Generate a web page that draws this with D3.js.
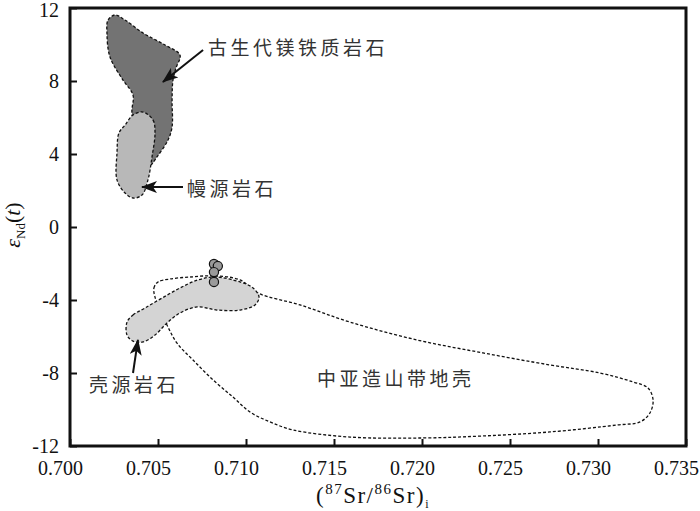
<!DOCTYPE html>
<html>
<head>
<meta charset="utf-8">
<script src="https://cdn.jsdelivr.net/npm/d3@7"></script>
<style>
  body { margin: 0; background: #fff; }
  svg { display: block; }
</style>
</head>
<body>
<svg id="chart" width="700" height="511"></svg>
<script>
// field outlines, [87Sr/86Sr, eNd]
const maficField = [
  [0.70256, 11.62], [0.70313, 11.34], [0.70415, 10.63], [0.70540, 9.97], [0.70625, 9.42],
  [0.70602, 8.71], [0.70585, 8.05], [0.70580, 6.96], [0.70580, 5.48], [0.70557, 4.77],
  [0.70494, 3.84], [0.70455, 3.40], [0.70400, 4.20], [0.70352, 6.25], [0.70358, 7.23],
  [0.70301, 8.05], [0.70227, 9.32], [0.70210, 10.63], [0.70216, 11.34]
];

const mantleField = [
  [0.70415, 6.30], [0.70472, 5.86], [0.70483, 5.15], [0.70466, 3.84], [0.70443, 2.58],
  [0.70409, 1.75], [0.70358, 1.59], [0.70313, 1.86], [0.70267, 2.58], [0.70267, 4.05],
  [0.70278, 5.15], [0.70313, 5.59], [0.70358, 6.14]
];

const crustField = [
  [0.70324, -5.21], [0.70358, -4.82], [0.70426, -4.44], [0.70523, -3.89], [0.70625, -3.34],
  [0.70727, -2.90], [0.70824, -2.74], [0.70966, -3.01], [0.71040, -3.34], [0.71074, -3.84],
  [0.71051, -4.27], [0.70966, -4.55], [0.70835, -4.55], [0.70722, -4.38], [0.70625, -4.71],
  [0.70551, -5.26], [0.70483, -5.92], [0.70415, -6.30], [0.70358, -6.25], [0.70324, -5.92]
];

const orogenField = [
  [0.70483, -3.84], [0.70477, -3.34], [0.70500, -3.01], [0.70568, -2.85], [0.70682, -2.74],
  [0.70824, -2.68], [0.70966, -2.90], [0.71068, -3.62], [0.71307, -4.27], [0.71591, -5.21],
  [0.71972, -6.19], [0.72347, -6.90], [0.72727, -7.56], [0.73011, -8.00], [0.73199, -8.49],
  [0.73284, -8.82], [0.73313, -9.48], [0.73295, -10.19], [0.73239, -10.68], [0.73108, -10.85],
  [0.72727, -11.23], [0.72347, -11.45], [0.72006, -11.56], [0.71591, -11.51], [0.71267, -11.12],
  [0.71136, -10.68], [0.71023, -10.14], [0.70926, -9.32], [0.70813, -8.38], [0.70699, -7.29],
  [0.70608, -6.36], [0.70551, -5.37]
];

const samples = [
  [0.70818, -2.03], [0.70840, -2.14], [0.70818, -2.47], [0.70818, -3.01]
];

const xTicks = [0.700, 0.705, 0.710, 0.715, 0.720, 0.725, 0.730, 0.735];
const yTicks = [-12, -8, -4, 0, 4, 8, 12];

const labels = [
  { text: "古生代镁铁质岩石", x: 0.70784, y: 9.42 },
  { text: "幔源岩石", x: 0.70665, y: 1.70 },
  { text: "壳源岩石", x: 0.70108, y: -9.04 },
  { text: "中亚造山带地壳", x: 0.71403, y: -8.71 }
];

const arrows = [
  { from: [0.70756, 9.70], to: [0.70528, 7.95] },
  { from: [0.70642, 2.19], to: [0.70409, 2.19] },
  { from: [0.70358, -8.00], to: [0.70386, -6.19] }
];

const svg = d3.select("#chart");
const mLeft = 70, mRight = 686, mTop = 8, mBottom = 446;
const serif = "Liberation Serif, Times New Roman, serif";

const x = d3.scaleLinear().domain([0.700, 0.735]).range([mLeft, mRight]);
const y = d3.scaleLinear().domain([-12, 12]).range([mBottom, mTop]);

const shape = d3.line()
  .x(d => x(d[0]))
  .y(d => y(d[1]))
  .curve(d3.curveCatmullRomClosed.alpha(0.5));

function field(pts, fill) {
  svg.append("path")
    .attr("d", shape(pts))
    .attr("fill", fill)
    .attr("stroke", "#111")
    .attr("stroke-width", 1.3)
    .attr("stroke-dasharray", "3 2");
}

field(maficField, "#737373");
field(mantleField, "#b8b8b8");
field(orogenField, "none");
field(crustField, "#d4d4d4");

svg.selectAll("circle.sample")
  .data(samples)
  .join("circle")
  .attr("class", "sample")
  .attr("cx", d => x(d[0]))
  .attr("cy", d => y(d[1]))
  .attr("r", 4.6)
  .attr("fill", "#9a9a9a")
  .attr("stroke", "#111")
  .attr("stroke-width", 1.2);

// arrows
svg.append("defs").append("marker")
  .attr("id", "head")
  .attr("markerUnits", "userSpaceOnUse")
  .attr("viewBox", "0 0 16 12")
  .attr("refX", 15)
  .attr("refY", 6)
  .attr("markerWidth", 16)
  .attr("markerHeight", 12)
  .attr("orient", "auto")
  .append("path")
  .attr("d", "M0,0 L16,6 L0,12 L4,6 Z")
  .attr("fill", "#111");

svg.selectAll("line.arrow")
  .data(arrows)
  .join("line")
  .attr("class", "arrow")
  .attr("x1", d => x(d.from[0]))
  .attr("y1", d => y(d.from[1]))
  .attr("x2", d => x(d.to[0]))
  .attr("y2", d => y(d.to[1]))
  .attr("stroke", "#111")
  .attr("stroke-width", 2)
  .attr("marker-end", "url(#head)");

svg.selectAll("text.zh")
  .data(labels)
  .join("text")
  .attr("class", "zh")
  .attr("x", d => x(d.x))
  .attr("y", d => y(d.y))
  .attr("font-family", "Noto Sans CJK SC, sans-serif")
  .attr("font-size", 19)
  .attr("letter-spacing", 3.5)
  .attr("fill", "#333")
  .text(d => d.text);

// axes, ticks pointing inward
const gx = svg.append("g")
  .attr("transform", `translate(0,${mBottom})`)
  .call(d3.axisBottom(x).tickValues(xTicks).tickFormat(d3.format(".3f")).tickSize(-7).tickPadding(12));
const gy = svg.append("g")
  .attr("transform", `translate(${mLeft},0)`)
  .call(d3.axisLeft(y).tickValues(yTicks).tickFormat(d => d < 0 ? "-" + Math.abs(d) : d).tickSize(-7).tickPadding(11));

[gx, gy].forEach(g => {
  g.select(".domain").remove();
  g.selectAll(".tick line").attr("stroke", "#111").attr("stroke-width", 2);
  g.selectAll(".tick text")
    .attr("font-family", serif)
    .attr("font-size", 20)
    .attr("fill", "#111");
});
gx.selectAll(".tick text").attr("dy", "0.85em").attr("dx", -10);
gy.selectAll(".tick text").filter(d => d === 12).attr("dy", "0.42em");

svg.append("rect")
  .attr("x", mLeft)
  .attr("y", mTop)
  .attr("width", mRight - mLeft)
  .attr("height", mBottom - mTop)
  .attr("fill", "none")
  .attr("stroke", "#111")
  .attr("stroke-width", 3);

// axis titles
const xt = svg.append("text")
  .attr("x", 373)
  .attr("y", 503)
  .attr("text-anchor", "middle")
  .attr("font-family", serif)
  .attr("font-size", 23)
  .attr("letter-spacing", 1.5)
  .attr("fill", "#111");
xt.append("tspan").text("(");
xt.append("tspan").attr("font-size", 15).attr("dy", -9).text("87");
xt.append("tspan").attr("dy", 9).text("Sr/");
xt.append("tspan").attr("font-size", 15).attr("dy", -9).text("86");
xt.append("tspan").attr("dy", 9).text("Sr)");
xt.append("tspan").attr("font-size", 12).attr("dy", 5).text("i");

const yt = svg.append("text")
  .attr("transform", "translate(20,225) rotate(-90)")
  .attr("text-anchor", "middle")
  .attr("font-family", serif)
  .attr("font-size", 22)
  .attr("fill", "#111");
yt.append("tspan").attr("font-style", "italic").text("ε");
yt.append("tspan").attr("font-size", 13).attr("dy", 5).text("Nd");
yt.append("tspan").attr("dy", -5).text("(");
yt.append("tspan").attr("font-style", "italic").text("t");
yt.append("tspan").text(")");
</script>
</body>
</html>
